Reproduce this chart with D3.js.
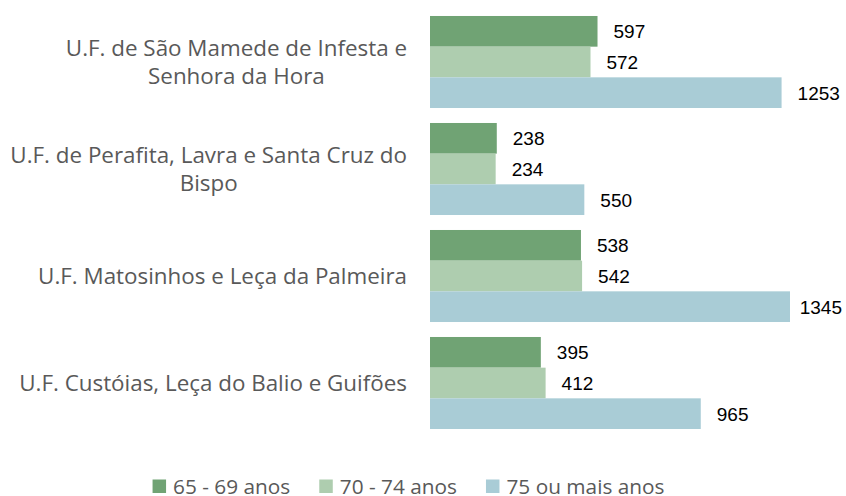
<!DOCTYPE html>
<html>
<head>
<meta charset="utf-8">
<script src="https://cdn.jsdelivr.net/npm/d3@7"></script>
<style>
  html, body { margin: 0; padding: 0; background: #fff; }
  svg { display: block; }
</style>
</head>
<body>
<svg id="chart" width="846" height="496"></svg>
<script>
// Freguesias (uniões de freguesias), top to bottom
const categories = [
  "U.F. de São Mamede de Infesta e\nSenhora da Hora",
  "U.F. de Perafita, Lavra e Santa Cruz do\nBispo",
  "U.F. Matosinhos e Leça da Palmeira",
  "U.F. Custóias, Leça do Balio e Guifões"
];
const seriesNames = ["65 - 69 anos", "70 - 74 anos", "75 ou mais anos"];
const values65 = [597, 238, 538, 395];
const values70 = [572, 234, 542, 412];
const values75 = [1253, 550, 1345, 965];
const seriesColors = ["#70a374", "#aecdaf", "#a9ccd6"];
const axisMax = 1283;

const series = [values65, values70, values75];

const svg = d3.select("#chart");
const plotLeft = 430, plotRight = 790;
const labelFont = "'Open Sans', sans-serif";
const catSize = 22.4;
const legendSize = 20.8;

const x = d3.scaleLinear().domain([0, axisMax]).range([plotLeft, plotRight]).clamp(true);
const y = d3.scaleBand().domain(d3.range(categories.length)).range([8.5, 436.5])
  .paddingInner(0.14).paddingOuter(0.07);
const ySub = d3.scaleBand().domain(d3.range(series.length)).range([0, y.bandwidth()]);

// Bars
const groups = svg.append("g").selectAll("g")
  .data(categories.map((c, i) => i))
  .join("g")
  .attr("transform", i => `translate(0,${y(i)})`);

groups.selectAll("rect")
  .data(i => series.map((s, k) => ({ k, v: s[i] })))
  .join("rect")
  .attr("x", x(0))
  .attr("y", d => ySub(d.k))
  .attr("width", d => x(d.v) - x(0))
  .attr("height", ySub.bandwidth())
  .attr("fill", d => seriesColors[d.k]);

// Value labels, kept inside the right edge
groups.selectAll("text.val")
  .data(i => series.map((s, k) => ({ k, v: s[i] })))
  .join("text")
  .attr("class", "val")
  .attr("y", d => ySub(d.k) + ySub.bandwidth() / 2)
  .attr("dy", "0.36em")
  .attr("font-family", "'Liberation Sans', Arial, sans-serif")
  .attr("font-size", 19)
  .attr("fill", "#000")
  .text(d => d.v)
  .each(function (d) {
    const w = this.getComputedTextLength();
    const px = Math.min(x(d.v) + 16, 842 - w);
    d3.select(this).attr("x", px);
  });

// Category labels: centred lines, block right-aligned
const catG = svg.append("g");
categories.forEach((c, i) => {
  const lines = c.split("\n");
  const cy = y(i) + y.bandwidth() / 2;
  const lh = 28;
  const t = catG.append("text")
    .attr("font-family", labelFont)
    .attr("font-size", catSize)
    .attr("fill", "#595959")
    .attr("text-anchor", "middle");
  const tsp = lines.map((ln, j) => t.append("tspan")
    .attr("y", cy + (j - (lines.length - 1) / 2) * lh)
    .attr("dy", "0.36em")
    .text(ln));
  const maxW = d3.max(tsp, s => s.node().getComputedTextLength());
  tsp.forEach(s => s.attr("x", 407 - maxW / 2));
});

// Legend
const legend = svg.append("g");
const gap = 29;
let lx = 0;
seriesNames.forEach((name, k) => {
  const g = legend.append("g");
  g.append("rect").attr("x", 0).attr("y", -14).attr("width", 13.5).attr("height", 13.5)
    .attr("fill", seriesColors[k]);
  const t = g.append("text").attr("x", 20.5).attr("y", 0)
    .attr("font-family", labelFont).attr("font-size", legendSize).attr("fill", "#595959")
    .text(name);
  const w = 20.5 + t.node().getComputedTextLength();
  g.attr("transform", `translate(${lx},0)`);
  lx += w + gap;
});
const totalW = lx - gap;
legend.attr("transform", `translate(${408.5 - totalW / 2},493.5)`);
</script>
</body>
</html>
